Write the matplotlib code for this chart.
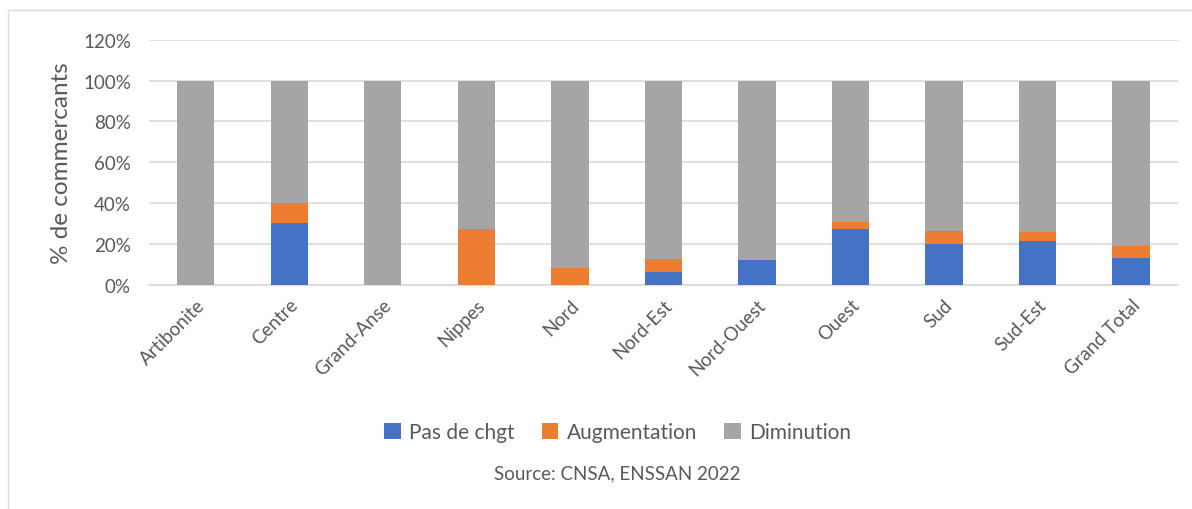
import matplotlib.pyplot as plt
import numpy as np
from matplotlib.patches import Rectangle
from matplotlib.ticker import PercentFormatter

plt.rcParams["font.family"] = ["Lato", "DejaVu Sans"]

departements = ["Artibonite", "Centre", "Grand-Anse", "Nippes", "Nord", "Nord-Est",
                "Nord-Ouest", "Ouest", "Sud", "Sud-Est", "Grand Total"]
pas_de_chgt = [0, 30, 0, 0, 0, 6, 12, 27.5, 20, 21.5, 13]
augmentation = [0, 10, 0, 27.5, 8, 6.5, 0, 3, 6.5, 4.5, 6]
diminution = [100 - p - a for p, a in zip(pas_de_chgt, augmentation)]

C_BLUE = "#4472C4"
C_ORANGE = "#ED7D31"
C_GREY = "#A5A5A5"
TXT = "#595959"

fig = plt.figure(figsize=(11.92, 5.1), dpi=100)
ax = fig.add_axes([0.125, 0.44, 0.863, 0.48])

x = np.arange(len(departements))
w = 0.4
pas = np.array(pas_de_chgt)
aug = np.array(augmentation)
dim = np.array(diminution)
ax.bar(x, pas, w, color=C_BLUE, label="Pas de chgt", zorder=3)
ax.bar(x, aug, w, bottom=pas, color=C_ORANGE, label="Augmentation", zorder=3)
ax.bar(x, dim, w, bottom=pas + aug, color=C_GREY, label="Diminution", zorder=3)

ax.set_ylim(0, 120)
ax.set_yticks(np.arange(0, 121, 20))
ax.yaxis.set_major_formatter(PercentFormatter(decimals=0))
ax.set_xlim(-0.5, len(departements) - 0.5)
ax.grid(axis="y", color="#d9d9d9", linewidth=1.2, zorder=0)
for s in ["top", "right", "left"]:
    ax.spines[s].set_visible(False)
ax.spines["bottom"].set_color("#d9d9d9")
ax.spines["bottom"].set_linewidth(1.2)
ax.tick_params(axis="y", length=0, colors=TXT, labelsize=13.5, pad=13)
ax.tick_params(axis="x", length=0, colors=TXT, labelsize=13.5, pad=8)
ax.set_xticks(x)
ax.set_xticklabels(departements, rotation=45, ha="right", rotation_mode="anchor")
ax.set_ylabel("% de commercants", fontsize=17.5, color=TXT, labelpad=8)

fig.legend(loc="center", bbox_to_anchor=(0.518, 0.151), ncol=3, frameon=False,
           fontsize=15, handlelength=0.8, handleheight=0.8, columnspacing=1.3,
           handletextpad=0.4, labelcolor=TXT)
fig.text(0.518, 0.07, "Source: CNSA, ENSSAN 2022", ha="center", va="center",
         fontsize=13.5, color=TXT)

fig.patches.append(Rectangle((8 / 1192, -0.01), 1.1, 1 - 11 / 510 + 0.01,
                             transform=fig.transFigure, fill=False,
                             edgecolor="#d9d9d9", linewidth=1))

fig.savefig("out.png", dpi=100)
